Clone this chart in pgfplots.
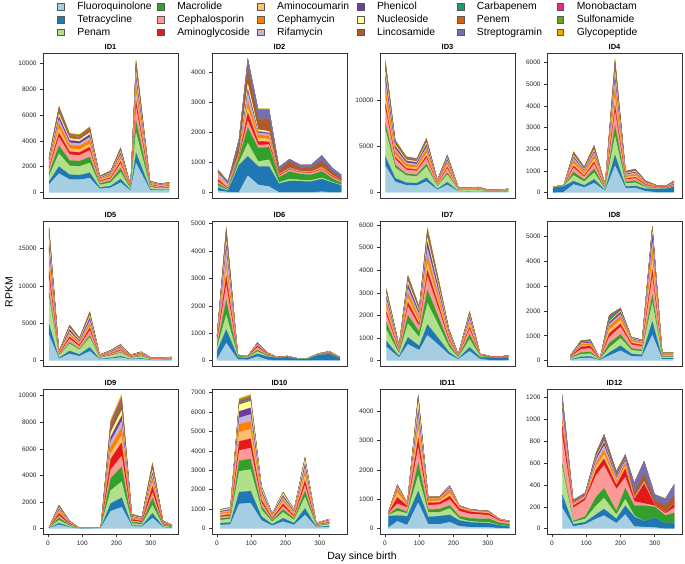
\documentclass[border=0pt]{standalone}
\usepackage{fontspec}
\setmainfont{Liberation Sans}
\usepackage{pgfplots}
\usepackage{pgfplotstable}
\pgfplotsset{compat=1.18}
\definecolor{cFQ}{HTML}{A6CEE3}
\definecolor{cTET}{HTML}{1F78B4}
\definecolor{cPEN}{HTML}{B2DF8A}
\definecolor{cMAC}{HTML}{33A02C}
\definecolor{cCEP}{HTML}{FB9A99}
\definecolor{cAMG}{HTML}{E31A1C}
\definecolor{cAMC}{HTML}{FDBF6F}
\definecolor{cCMY}{HTML}{FF7F00}
\definecolor{cRIF}{HTML}{CAB2D6}
\definecolor{cPHE}{HTML}{6A3D9A}
\definecolor{cNUC}{HTML}{FFFF99}
\definecolor{cLIN}{HTML}{B15928}
\definecolor{cCAR}{HTML}{1B9E77}
\definecolor{cPNM}{HTML}{D95F02}
\definecolor{cSTR}{HTML}{7570B3}
\definecolor{cMON}{HTML}{E7298A}
\definecolor{cSUL}{HTML}{66A61E}
\definecolor{cGLY}{HTML}{E6AB02}
\pgfplotsset{
  panel/.style={
    at={#1}, anchor=south west, scale only axis, width=135bp, height=145bp,
    xmin=-14.6, xmax=379.6, stack plots=y,
    axis line style={black!80, line width=0.9bp},
    every tick/.style={black!80, line width=0.6bp},
    tick align=outside, major tick length=3bp,
    xtick pos=bottom, ytick pos=left, xtick=\empty,
    tick label style={font=\fontsize{6.5}{7}\selectfont, text=black!85},
    /pgf/number format/assume math mode=true,
    yticklabel style={/pgf/number format/1000 sep={}},
    xticklabel style={/pgf/number format/1000 sep={}},
    scaled y ticks=false,
    every axis title/.style={at={(0.5,1)}, anchor=base, yshift=3.3bp, font=\bfseries\fontsize{7.5}{8}\selectfont},
    every axis plot/.append style={line width=0.15bp},
  },
}
\newcommand\stackall[1]{%
 \addplot[fill=cFQ,draw=cFQ] table[x=d,y=FQ]{#1}\closedcycle;
 \addplot[fill=cTET,draw=cTET] table[x=d,y=TET]{#1}\closedcycle;
 \addplot[fill=cPEN,draw=cPEN] table[x=d,y=PEN]{#1}\closedcycle;
 \addplot[fill=cMAC,draw=cMAC] table[x=d,y=MAC]{#1}\closedcycle;
 \addplot[fill=cCEP,draw=cCEP] table[x=d,y=CEP]{#1}\closedcycle;
 \addplot[fill=cAMG,draw=cAMG] table[x=d,y=AMG]{#1}\closedcycle;
 \addplot[fill=cAMC,draw=cAMC] table[x=d,y=AMC]{#1}\closedcycle;
 \addplot[fill=cCMY,draw=cCMY] table[x=d,y=CMY]{#1}\closedcycle;
 \addplot[fill=cRIF,draw=cRIF] table[x=d,y=RIF]{#1}\closedcycle;
 \addplot[fill=cPHE,draw=cPHE] table[x=d,y=PHE]{#1}\closedcycle;
 \addplot[fill=cNUC,draw=cNUC] table[x=d,y=NUC]{#1}\closedcycle;
 \addplot[fill=cLIN,draw=cLIN] table[x=d,y=LIN]{#1}\closedcycle;
 \addplot[fill=cCAR,draw=cCAR] table[x=d,y=CAR]{#1}\closedcycle;
 \addplot[fill=cPNM,draw=cPNM] table[x=d,y=PNM]{#1}\closedcycle;
 \addplot[fill=cSTR,draw=cSTR] table[x=d,y=STR]{#1}\closedcycle;
 \addplot[fill=cMON,draw=cMON] table[x=d,y=MON]{#1}\closedcycle;
 \addplot[fill=cSUL,draw=cSUL] table[x=d,y=SUL]{#1}\closedcycle;
 \addplot[fill=cGLY,draw=cGLY] table[x=d,y=GLY]{#1}\closedcycle;
}
\newcommand\legitem[2]{\addlegendimage{fill=#1}\addlegendentry{\makebox[80bp][l]{#2}}}
\begin{document}
% ID1
\pgfplotstableread{
d FQ TET PEN MAC CEP AMG AMC CMY RIF PHE NUC LIN CAR PNM STR MON SUL GLY
3 616 224 420 252 280 140 140 168 112 112 84 56 28 56 28 28 28 28
32 1474 536 1005 603 670 335 335 402 268 268 201 134 67 134 67 67 67 67
63 1012 368 690 414 460 230 230 276 184 184 138 92 46 92 46 46 46 46
92 990 360 675 405 450 225 225 270 180 180 135 90 45 90 45 45 45 45
122 1122 408 765 459 510 255 255 306 204 204 153 102 51 102 51 51 51 51
151 286 104 195 117 130 65 65 78 52 52 39 26 13 26 13 13 13 13
183 374 136 255 153 170 85 85 102 68 68 51 34 17 34 17 17 17 17
212 770 280 525 315 350 175 175 210 140 140 105 70 35 70 35 35 35 35
241 132 48 90 54 60 30 30 36 24 24 18 12 6 12 6 6 6 6
257 2266 824 1545 927 1030 515 515 618 412 412 309 206 103 206 103 103 103 103
298 198 72 135 81 90 45 45 54 36 36 27 18 9 18 9 9 9 9
327 154 56 105 63 70 35 35 42 28 28 21 14 7 14 7 7 7 7
354 176 64 120 72 80 40 40 48 32 32 24 16 8 16 8 8 8 8
}\tA
% ID2
\pgfplotstableread{
d FQ TET PEN MAC CEP AMG AMC CMY RIF PHE NUC LIN CAR PNM STR MON SUL GLY
3 60 110 50 80 60 70 20 30 150 20 10 40 5 5 40 0 5 5
32 20 40 20 30 20 20 10 10 100 10 5 40 2 3 35 0 3 2
64 10 900 80 150 30 20 20 30 20 10 10 250 10 10 200 0 5 5
90 560 640 440 520 220 270 170 210 270 130 170 490 20 20 300 0 10 10
120 260 610 160 450 100 120 100 120 60 50 60 330 30 10 300 0 10 10
152 200 670 220 420 80 100 90 100 60 40 50 370 30 10 320 0 10 10
181 10 290 40 160 50 20 10 10 10 5 5 100 5 0 130 0 0 5
212 10 380 60 250 60 20 10 10 10 10 5 200 5 0 80 0 0 0
243 10 370 40 200 50 20 10 10 5 5 0 110 5 0 85 0 0 0
275 10 360 40 180 60 20 10 10 5 5 0 130 5 0 85 0 0 0
306 30 420 40 220 60 20 20 20 10 5 5 200 10 0 170 0 0 0
337 10 320 20 120 50 30 10 10 5 5 0 110 5 0 115 0 0 0
363 10 230 20 60 40 20 5 5 5 0 0 80 0 0 115 0 0 0
}\tB
% ID3
\pgfplotstableread{
d FQ TET PEN MAC CEP AMG AMC CMY RIF PHE NUC LIN CAR PNM STR MON SUL GLY
1 2880 1008 2880 720 1584 576 720 1008 576 720 432 288 144 288 288 0 144 144
30 1140 399 1140 285 627 228 285 399 228 285 171 114 57 114 114 0 57 57
62 780 273 780 195 429 156 195 273 156 195 117 78 39 78 78 0 39 39
93 740 259 740 185 407 148 185 259 148 185 111 74 37 74 74 0 37 37
121 1180 413 1180 295 649 236 295 413 236 295 177 118 59 118 118 0 59 59
153 280 98 280 70 154 56 70 98 56 70 42 28 14 28 28 0 14 14
182 820 287 820 205 451 164 205 287 164 205 123 82 41 82 82 0 41 41
214 120 42 120 30 66 24 30 42 24 30 18 12 6 12 12 0 6 6
244 100 35 100 25 55 20 25 35 20 25 15 10 5 10 10 0 5 5
273 120 42 120 30 66 24 30 42 24 30 18 12 6 12 12 0 6 6
302 60 21 60 15 33 12 15 21 12 15 9 6 3 6 6 0 3 3
331 60 21 60 15 33 12 15 21 12 15 9 6 3 6 6 0 3 3
360 80 28 80 20 44 16 20 28 16 20 12 8 4 8 8 0 4 4
}\tC
% ID4
\pgfplotstableread{
d FQ TET PEN MAC CEP AMG AMC CMY RIF PHE NUC LIN CAR PNM STR MON SUL GLY
3 0 230 10 10 10 5 5 5 0 0 0 5 0 0 0 0 0 0
34 20 270 10 10 10 5 5 5 0 0 0 5 0 0 0 0 0 0
63 380 152 266 152 190 95 114 133 95 76 57 38 19 38 38 19 19 19
94 240 96 168 96 120 60 72 84 60 48 36 24 12 24 24 12 12 12
123 440 176 308 176 220 110 132 154 110 88 66 44 22 44 44 22 22 22
155 80 32 56 32 40 20 24 28 20 16 12 8 4 8 8 4 4 4
184 1240 496 868 496 620 310 372 434 310 248 186 124 62 124 124 62 62 62
215 200 80 140 80 100 50 60 70 50 40 30 20 10 20 20 10 10 10
243 220 88 154 88 110 55 66 77 55 44 33 22 11 22 22 11 11 11
274 60 120 60 40 60 40 30 40 20 20 10 20 5 10 5 0 0 0
306 20 150 20 30 30 20 10 20 10 10 0 10 0 5 5 0 0 0
335 10 180 10 30 30 20 10 10 10 10 0 10 0 0 10 0 0 0
356 10 250 10 40 50 40 20 30 20 20 0 20 0 0 30 0 0 0
}\tD
% ID5
\pgfplotstableread{
d FQ TET PEN MAC CEP AMG AMC CMY RIF PHE NUC LIN CAR PNM STR MON SUL GLY
3 3420 1440 3600 720 1800 1080 720 900 900 1080 720 540 180 360 180 0 180 180
32 247 104 260 52 130 78 52 65 65 78 52 39 13 26 13 0 13 13
63 912 384 960 192 480 288 192 240 240 288 192 144 48 96 48 0 48 48
92 589 248 620 124 310 186 124 155 155 186 124 93 31 62 31 0 31 31
122 1254 528 1320 264 660 396 264 330 330 396 264 198 66 132 66 0 66 66
151 152 64 160 32 80 48 32 40 40 48 32 24 8 16 8 0 8 8
183 266 112 280 56 140 84 56 70 70 84 56 42 14 28 14 0 14 14
212 418 176 440 88 220 132 88 110 110 132 88 66 22 44 22 0 22 22
241 152 64 160 32 80 48 32 40 40 48 32 24 8 16 8 0 8 8
272 228 96 240 48 120 72 48 60 60 72 48 36 12 24 12 0 12 12
301 76 32 80 16 40 24 16 20 20 24 16 12 4 8 4 0 4 4
332 76 32 80 16 40 24 16 20 20 24 16 12 4 8 4 0 4 4
361 95 40 100 20 50 30 20 25 25 30 20 15 5 10 5 0 5 5
}\tE
% ID6
\pgfplotstableread{
d FQ TET PEN MAC CEP AMG AMC CMY RIF PHE NUC LIN CAR PNM STR MON SUL GLY
0 50 300 100 80 150 80 30 40 40 20 10 20 5 5 5 0 5 0
27 637 490 539 539 539 343 245 245 441 196 147 147 49 98 98 49 49 49
61 40 80 20 20 20 10 5 5 5 0 0 5 0 0 0 0 0 0
90 30 70 15 15 20 10 5 5 0 0 0 0 0 0 0 0 0 0
118 150 100 80 60 90 60 20 30 20 20 10 10 0 5 5 0 0 0
147 30 120 20 30 30 20 10 10 5 5 0 10 0 0 0 0 0 0
176 10 90 5 10 5 5 0 0 0 0 0 5 0 0 0 0 0 0
205 10 120 5 15 10 5 0 0 0 0 0 5 0 0 0 0 0 0
234 5 60 5 10 5 5 0 0 0 0 0 0 0 0 0 0 0 0
265 5 55 5 10 5 5 0 0 0 0 0 5 0 0 0 0 0 0
296 10 200 10 15 10 5 0 5 0 0 0 5 0 0 0 0 0 0
328 10 230 10 40 15 10 5 5 5 0 0 10 0 0 0 0 0 0
359 5 80 5 20 5 5 0 0 0 0 0 10 0 0 0 0 0 0
}\tF
% ID7
\pgfplotstableread{
d FQ TET PEN MAC CEP AMG AMC CMY RIF PHE NUC LIN CAR PNM STR MON SUL GLY
4 608 256 512 320 320 160 160 192 160 160 96 64 32 32 32 32 32 32
41 133 56 112 70 70 35 35 42 35 35 21 14 7 7 7 7 7 7
67 722 304 608 380 380 190 190 228 190 190 114 76 38 38 38 38 38 38
100 456 192 384 240 240 120 120 144 120 120 72 48 24 24 24 24 24 24
124 1121 472 944 590 590 295 295 354 295 295 177 118 59 59 59 59 59 59
158 665 280 560 350 350 175 175 210 175 175 105 70 35 35 35 35 35 35
187 266 112 224 140 140 70 70 84 70 70 42 28 14 14 14 14 14 14
214 57 24 48 30 30 15 15 18 15 15 9 6 3 3 3 3 3 3
247 418 176 352 220 220 110 110 132 110 110 66 44 22 22 22 22 22 22
278 60 80 40 30 30 15 10 10 5 5 0 5 0 5 5 0 0 0
307 20 120 10 10 10 10 5 5 0 0 0 5 0 5 0 0 0 0
336 20 110 10 10 10 10 5 5 0 0 0 5 0 5 0 0 0 0
360 20 130 10 15 10 10 5 5 0 0 0 10 0 5 0 0 0 0
}\tG
% ID8
\pgfplotstableread{
d FQ TET PEN MAC CEP AMG AMC CMY RIF PHE NUC LIN CAR PNM STR MON SUL GLY
54 30 20 40 30 30 20 10 20 10 5 0 5 5 0 0 5 0 0
85 100 60 100 70 130 100 40 60 30 30 10 20 30 10 10 5 5 0
112 110 60 110 70 140 100 40 60 30 30 10 20 30 10 10 10 5 5
140 20 10 10 10 10 5 5 5 0 0 0 5 0 0 0 0 0 0
167 200 120 200 180 240 150 150 150 80 80 30 30 120 20 20 50 10 0
200 400 200 300 150 300 130 150 150 80 90 40 30 50 10 10 20 10 0
232 170 100 150 70 150 70 60 60 30 30 20 10 10 10 5 0 5 0
263 160 80 130 60 140 60 50 50 30 30 15 10 10 10 5 0 0 0
293 1026 540 756 324 702 324 378 432 270 324 108 54 54 54 54 0 0 0
322 60 40 50 30 40 20 20 20 10 10 5 5 5 5 0 0 0 0
354 60 40 50 30 40 20 20 20 10 10 5 5 5 5 0 0 0 0
}\tH
% ID9
\pgfplotstableread{
d FQ TET PEN MAC CEP AMG AMC CMY RIF PHE NUC LIN CAR PNM STR MON SUL GLY
3 40 20 15 10 10 5 5 5 5 0 0 5 0 0 0 0 0 0
32 288 126 216 198 144 180 90 108 90 72 72 72 18 18 18 36 18 36
63 96 42 72 66 48 60 30 36 30 24 24 24 6 6 6 12 6 12
92 20 10 5 5 5 5 0 0 0 0 0 0 0 0 0 0 0 0
122 20 10 5 5 5 5 0 0 0 0 0 0 0 0 0 0 0 0
154 40 20 15 10 10 5 5 5 5 0 0 5 0 0 0 0 0 0
183 1312 574 984 902 656 820 410 492 410 328 328 328 82 82 82 164 82 164
215 1616 707 1212 1111 808 1010 505 606 505 404 404 404 101 101 101 202 101 202
245 176 77 132 121 88 110 55 66 55 44 44 44 11 11 11 22 11 22
274 144 63 108 99 72 90 45 54 45 36 36 36 9 9 9 18 9 18
305 800 350 600 550 400 500 250 300 250 200 200 200 50 50 50 100 50 100
336 96 42 72 66 48 60 30 36 30 24 24 24 6 6 6 12 6 12
362 48 21 36 33 24 30 15 18 15 12 12 12 3 3 3 6 3 6
}\tI
% ID10
\pgfplotstableread{
d FQ TET PEN MAC CEP AMG AMC CMY RIF PHE NUC LIN CAR PNM STR MON SUL GLY
10 190 90 160 80 80 70 70 60 50 50 50 10 10 0 0 10 10 10
39 209 99 176 88 88 77 77 66 55 55 55 11 11 0 0 11 11 11
65 1273 603 1072 536 536 469 469 402 335 335 335 67 67 0 0 67 67 67
98 1311 621 1104 552 552 483 483 414 345 345 345 69 69 0 0 69 69 69
130 418 198 352 176 176 154 154 132 110 110 110 22 22 0 0 22 22 22
161 152 72 128 64 64 56 56 48 40 40 40 8 8 0 0 8 8 8
193 361 171 304 152 152 133 133 114 95 95 95 19 19 0 0 19 19 19
225 190 90 160 80 80 70 70 60 50 50 50 10 10 0 0 10 10 10
257 703 333 592 296 296 259 259 222 185 185 185 37 37 0 0 37 37 37
290 57 27 48 24 24 21 21 18 15 15 15 3 3 0 0 3 3 3
328 95 45 80 40 40 35 35 30 25 25 25 5 5 0 0 5 5 5
}\tJ
% ID11
\pgfplotstableread{
d FQ TET PEN MAC CEP AMG AMC CMY RIF PHE NUC LIN CAR PNM STR MON SUL GLY
10 30 400 30 30 30 20 5 10 5 5 0 5 0 0 0 0 0 0
36 250 200 150 100 150 220 150 150 30 20 20 20 10 10 20 0 0 10
65 120 300 100 50 150 50 30 40 10 10 10 10 0 0 0 0 0 0
97 880 400 530 430 510 350 280 230 230 220 230 100 40 40 40 20 20 30
126 150 250 150 100 150 80 60 80 30 20 10 10 5 5 10 0 0 0
160 150 280 130 110 150 80 50 70 30 20 10 10 5 5 10 0 0 0
189 220 250 220 100 200 120 100 120 50 40 20 10 5 5 10 0 0 0
217 80 200 60 80 180 90 30 30 10 10 5 10 0 5 0 0 0 0
248 50 170 30 100 150 80 20 20 10 10 5 10 0 5 0 0 0 0
275 40 160 30 110 140 70 20 20 10 10 5 10 0 5 0 0 0 0
303 40 150 30 120 120 60 20 20 10 10 5 10 0 5 0 0 0 0
333 20 90 10 80 70 30 10 10 5 5 0 5 0 5 0 0 0 0
364 10 60 10 70 60 20 10 10 5 0 0 5 0 0 0 0 0 0
}\tK
% ID12
\pgfplotstableread{
d FQ TET PEN MAC CEP AMG AMC CMY RIF PHE NUC LIN CAR PNM STR MON SUL GLY
30 190 120 250 30 250 100 20 40 80 30 10 20 5 10 60 5 5 5
62 20 20 20 10 120 20 5 5 10 5 2 10 0 3 10 0 1 1
97 40 20 30 20 150 20 5 5 10 5 2 8 1 2 10 0 1 1
129 90 40 80 80 200 50 30 30 30 20 10 15 5 5 10 1 0 0
152 120 60 100 90 210 60 40 40 40 30 10 30 5 5 20 2 2 0
188 50 40 40 30 200 40 20 20 20 15 5 15 2 5 20 2 3 0
214 130 80 60 100 100 80 20 30 20 15 5 15 5 5 10 2 3 0
240 20 90 10 90 40 20 5 5 5 5 0 40 0 5 80 0 5 0
269 15 55 0 140 20 180 5 5 10 5 0 60 0 5 115 0 5 0
300 10 90 0 100 10 10 0 0 0 0 0 40 0 0 50 0 4 0
331 0 50 0 70 20 10 0 0 0 0 0 60 0 0 60 0 5 0
357 0 55 0 90 45 40 0 0 0 0 0 70 0 0 105 0 0 0
}\tL
\begin{tikzpicture}
\path[use as bounding box] (0bp,0bp) rectangle (685bp,-564bp);
% legend
\begin{axis}[at={(0bp,-564bp)}, anchor=south west, scale only axis, width=685bp, height=564bp,
  xmin=0, xmax=1, ymin=0, ymax=1, hide axis, legend columns=6,
  legend image code/.code={\draw[#1,draw=black!65,line width=0.4bp] (0bp,-3.2bp) rectangle (6.5bp,3.3bp);},
  legend style={at={(0.0839,0.9961)}, anchor=north west, draw=none, fill=none, inner sep=0pt, outer sep=0pt,
    row sep=3.8bp, column sep=0pt, font=\fontsize{10.4}{13}\selectfont,
    nodes={inner sep=0pt, outer sep=0pt},
    /tikz/every odd column/.append style={column sep=13bp}},
  legend cell align=left]
\legitem{cFQ}{Fluoroquinolone}\legitem{cMAC}{Macrolide}\legitem{cAMC}{Aminocoumarin}\legitem{cPHE}{Phenicol}\legitem{cCAR}{Carbapenem}\legitem{cMON}{Monobactam}
\legitem{cTET}{Tetracycline}\legitem{cCEP}{Cephalosporin}\legitem{cCMY}{Cephamycin}\legitem{cNUC}{Nucleoside}\legitem{cPNM}{Penem}\legitem{cSUL}{Sulfonamide}
\legitem{cPEN}{Penam}\legitem{cAMG}{Aminoglycoside}\legitem{cRIF}{Rifamycin}\legitem{cLIN}{Lincosamide}\legitem{cSTR}{Streptogramin}\legitem{cGLY}{Glycopeptide}
\end{axis}
% row 1
\begin{axis}[panel={(43bp,-198bp)}, title={ID1}, ymin=-420, ymax=10800, ytick={0,2000,...,10000}]
\stackall{\tA}
\end{axis}
\begin{axis}[panel={(212bp,-198bp)}, title={ID2}, ymin=-178, ymax=4628, ytick={0,1000,...,4000}]
\stackall{\tB}
\end{axis}
\begin{axis}[panel={(380bp,-198bp)}, title={ID3}, ymin=-600, ymax=15100, ytick={0,5000,10000}]
\stackall{\tC}
\end{axis}
\begin{axis}[panel={(547bp,-198bp)}, title={ID4}, ymin=-248, ymax=6448, ytick={0,1000,...,6000}]
\stackall{\tD}
\end{axis}
% row 2
\begin{axis}[panel={(43bp,-366bp)}, title={ID5}, ymin=-720, ymax=18720, ytick={0,5000,10000,15000}]
\stackall{\tE}
\end{axis}
\begin{axis}[panel={(212bp,-366bp)}, title={ID6}, ymin=-196, ymax=5096, ytick={0,1000,...,5000}]
\stackall{\tF}
\end{axis}
\begin{axis}[panel={(380bp,-366bp)}, title={ID7}, ymin=-238, ymax=6180, ytick={0,1000,...,6000}]
\stackall{\tG}
\end{axis}
\begin{axis}[panel={(547bp,-366bp)}, title={ID8}, ymin=-216, ymax=5616, ytick={0,1000,...,5000}]
\stackall{\tH}
\end{axis}
% row 3
\begin{axis}[panel={(43bp,-534bp)}, title={ID9}, ymin=-404, ymax=10504, ytick={0,2000,...,10000}, xtick={0,100,200,300}]
\stackall{\tI}
\end{axis}
\begin{axis}[panel={(212bp,-534bp)}, title={ID10}, ymin=-276, ymax=7176, ytick={0,1000,...,7000}, xtick={0,100,200,300}]
\stackall{\tJ}
\end{axis}
\begin{axis}[panel={(380bp,-534bp)}, title={ID11}, ymin=-183, ymax=4763, ytick={0,1000,...,4000}, xtick={0,100,200,300}]
\stackall{\tK}
\end{axis}
\begin{axis}[panel={(547bp,-534bp)}, title={ID12}, ymin=-49, ymax=1279, ytick={0,200,...,1200}, xtick={0,100,200,300}]
\stackall{\tL}
\end{axis}
\node[rotate=90, font=\fontsize{10.5}{12}\selectfont] at (9bp,-292bp) {RPKM};
\node[font=\fontsize{10.5}{12}\selectfont] at (362bp,-557bp) {Day since birth};
\end{tikzpicture}
\end{document}
